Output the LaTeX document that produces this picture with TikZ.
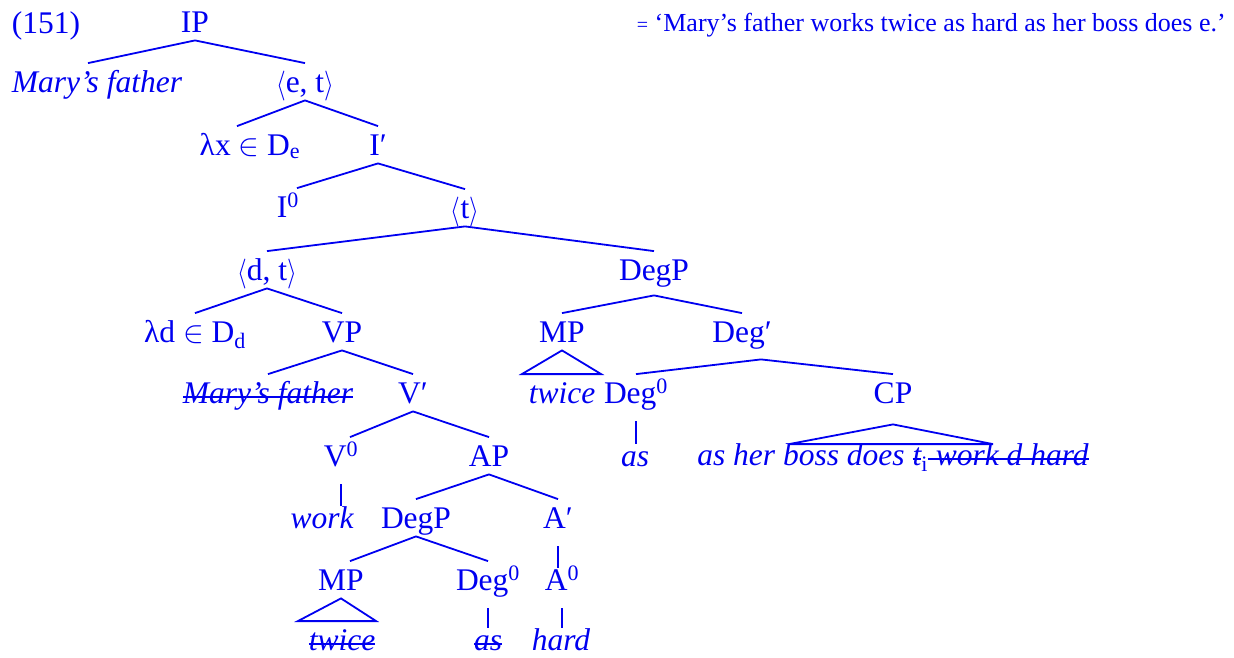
\documentclass[tikz,border=0pt]{standalone}
\usepackage{fontspec}
\setmainfont{Liberation Serif}
\definecolor{treeblue}{RGB}{0,0,240}
% struck-out words
\newcommand{\strk}[1]{\setbox0\hbox{#1}\rlap{\raise5.5pt\hbox{\vrule width\wd0 height 1.6pt depth 0pt}}\box0}
\newcommand{\elem}{\scalebox{1.25}{$\in$}}
\newcommand{\lang}{\raisebox{-1.5pt}{\scalebox{1}[1.2]{$\langle$}}}
\newcommand{\rang}{\raisebox{-1.5pt}{\scalebox{1}[1.2]{$\rangle$}}}

\begin{document}
\begin{tikzpicture}[x=1pt, y=-1pt, line width=1.8pt, color=treeblue,
  every node/.style={font=\fontsize{31.5}{32}\selectfont},
  cat/.style={anchor=base, inner sep=0pt, text height=28pt, text depth=7.5pt},
  word/.style={cat, font=\fontsize{31.5}{32}\selectfont\itshape},
  unary/.style={shorten <=10pt, shorten >=-7pt}]
\useasboundingbox (0,0) rectangle (1234,657);
% example number and paraphrase
\node[anchor=base west, inner sep=0pt] (num) at (11,33) {(151)};
\node[anchor=base west, inner sep=0pt, font=\fontsize{26}{27}\selectfont] (gloss) at (636,31) {{\fontsize{20}{20}\selectfont =} ‘Mary’s father works twice as hard as her boss does e.’};
% tree nodes
\node[cat] (ip) at (195,32) {IP};
\node[word] (mf) at (97,92) {Mary’s father};
\node[cat] (et) at (305,92) {\lang e, t\rang};
\node[cat] (lx) at (250,155) {λx \elem{} D\textsubscript{e}};
\node[cat] (ibar) at (378,155) {I′};
\node[cat] (izero) at (288,217) {I\textsuperscript{0}};
\node[cat] (t) at (465,218) {\lang t\rang};
\node[cat] (dt) at (267,280) {\lang d, t\rang};
\node[cat] (degp) at (654,280) {DegP};
\node[cat] (ld) at (195,342) {λd \elem{} D\textsubscript{d}};
\node[cat] (vp) at (342,342) {VP};
\node[cat] (mp) at (562,342) {MP};
\node[cat] (degbar) at (742,342) {Deg′};
\node[word] (mfs) at (268,403) {\strk{Mary’s father}};
\node[cat] (vbar) at (413,403) {V′};
\node[word] (twice) at (562,403) {twice};
\node[cat] (degzero) at (636,403) {Deg\textsuperscript{0}};
\node[cat] (cp) at (893,403) {CP};
\node[cat] (vzero) at (341,466) {V\textsuperscript{0}};
\node[cat] (ap) at (489,466) {AP};
\node[word] (as) at (635,466) {as};
\node[word] (cpt) at (893,465) {as her boss does \strk{t}\textsubscript{\upshape i}\strk{ work d hard}};
\node[word] (work) at (322,528) {work};
\node[cat] (degpb) at (416,528) {DegP};
\node[cat] (abar) at (558,528) {A′};
\node[cat] (mpb) at (341,590) {MP};
\node[cat] (degzerob) at (488,590) {Deg\textsuperscript{0}};
\node[cat] (azero) at (562,590) {A\textsuperscript{0}};
\node[word] (twiceb) at (342,650) {\strk{twice}};
\node[word] (asb) at (488,650) {\strk{as}};
\node[word] (hard) at (561,650) {hard};
% branches
\draw (ip.south) -- ([xshift=-9pt]mf.north);
\draw (ip.south) -- (et.north);
\draw (et.south) -- ([xshift=-13pt]lx.north);
\draw (et.south) -- (ibar.north);
\draw (ibar.south) -- ([xshift=9pt]izero.north);
\draw (ibar.south) -- (t.north);
\draw (t.south) -- (dt.north);
\draw (t.south) -- (degp.north);
\draw (dt.south) -- (ld.north);
\draw (dt.south) -- (vp.north);
\draw ([yshift=-7pt]degp.south) -- (mp.north);
\draw ([yshift=-7pt]degp.south) -- (degbar.north);
\draw (vp.south) -- (mfs.north);
\draw (vp.south) -- (vbar.north);
\draw (mp.south) -- ([xshift=-6pt]twice.north west) -- ([xshift=5pt]twice.north east) -- cycle;
\draw ([xshift=19pt,yshift=-9pt]degbar.south) -- (degzero.north);
\draw ([xshift=19pt,yshift=-9pt]degbar.south) -- (cp.north);
\draw[unary] (degzero.south) -- (degzero.south |- as.north);
\draw ([yshift=-13pt]cp.south) -- ([xshift=-104pt,yshift=-8pt]cpt.north) -- ([xshift=100pt,yshift=-8pt]cpt.north) -- cycle;
\draw (vbar.south) -- ([xshift=9pt]vzero.north);
\draw (vbar.south) -- (ap.north);
\draw[unary] (vzero.south) -- (vzero.south |- work.north);
\draw (ap.south) -- (degpb.north);
\draw (ap.south) -- (abar.north);
\draw (degpb.south) -- ([xshift=9pt]mpb.north);
\draw (degpb.south) -- (degzerob.north);
\draw[unary] (abar.south) -- (abar.south |- azero.north);
\draw (mpb.south) -- ([xshift=-10pt]twiceb.north west) -- (twiceb.north east) -- cycle;
\draw[unary] (degzerob.south) -- (degzerob.south |- asb.north);
\draw[unary] (azero.south) -- (azero.south |- hard.north);
\end{tikzpicture}
\end{document}
